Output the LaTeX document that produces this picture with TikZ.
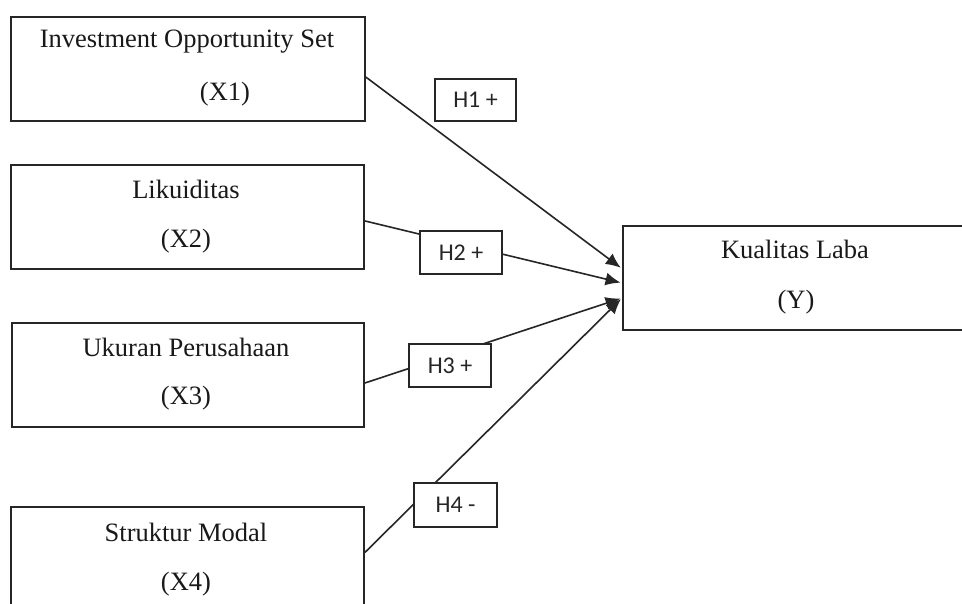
\documentclass[tikz,border=0pt]{standalone}
\usepackage{fontspec}
\setmainfont{Liberation Serif}
\newfontfamily\hfont{Carlito}
\usetikzlibrary{arrows.meta,calc}
\begin{document}
\begin{tikzpicture}[x=1pt,y=-1pt,
  box/.style={draw=black!85,line width=1.8pt,rectangle,anchor=north west,inner sep=0pt},
  lbl/.style={font=\fontsize{26.5}{30}\selectfont,inner sep=0pt,anchor=center,text=black!90},
  hyp/.style={draw=black!85,fill=white,line width=1.7pt,inner sep=0pt,text=black!85,font=\hfont\fontsize{24}{26}\selectfont},
  conn/.style={line width=1.6pt,draw=black!85,shorten >=1.5pt,-{Latex[length=15pt,width=13pt]}}]
\useasboundingbox (0,0) rectangle (962,604);
\clip (0,0) rectangle (962,604);
\fill[white] (0,0) rectangle (962,604);
% boxes
\node[box,minimum width=354pt,minimum height=104pt] (x1) at (10,16) {};
\node[box,minimum width=353pt,minimum height=104pt] (x2) at (10,164) {};
\node[box,minimum width=352pt,minimum height=104pt] (x3) at (11,322) {};
\node[box,minimum width=353pt,minimum height=104pt] (x4) at (10,506) {};
\node[box,minimum width=420pt,minimum height=104pt] (y) at (622,225) {};
% texts
\node[lbl] (t1a) at (187,42) {Investment Opportunity Set};
\node[lbl] (t1b) at (225,94) {(X1)};
\node[lbl] (t2a) at (186,189) {Likuiditas};
\node[lbl] (t2b) at (186,241) {(X2)};
\node[lbl] (t3a) at (186,347) {Ukuran Perusahaan};
\node[lbl] (t3b) at (186,398) {(X3)};
\node[lbl] (t4a) at (186,532) {Struktur Modal};
\node[lbl] (t4b) at (186,584) {(X4)};
\node[lbl] (tya) at (795,249) {Kualitas Laba};
\node[lbl] (tyb) at (796,302) {(Y)};
% connectors
\draw[conn] ($(x1.north east)!0.577!(x1.south east)$) -- ($(y.north west)!0.413!(y.south west)$);
\draw[conn] ($(x2.north east)!0.538!(x2.south east)$) -- ($(y.north west)!0.548!(y.south west)$);
\draw[conn] ($(x3.north east)!0.577!(x3.south east)$) -- ($(y.north west)!0.69!(y.south west)$);
\draw[conn] ($(x4.north east)!0.44!(x4.south east)$) -- ($(y.north west)!0.69!(y.south west)$);
% hypothesis labels
\node[hyp,minimum width=81pt,minimum height=42pt] (h1) at (475.5,100) {H1 +};
\node[hyp,minimum width=82pt,minimum height=43pt] (h2) at (461,252.5) {H2 +};
\node[hyp,minimum width=82pt,minimum height=43pt] (h3) at (450,365.5) {H3 +};
\node[hyp,minimum width=83pt,minimum height=44pt] (h4) at (455.5,505) {H4 -};
\end{tikzpicture}
\end{document}
